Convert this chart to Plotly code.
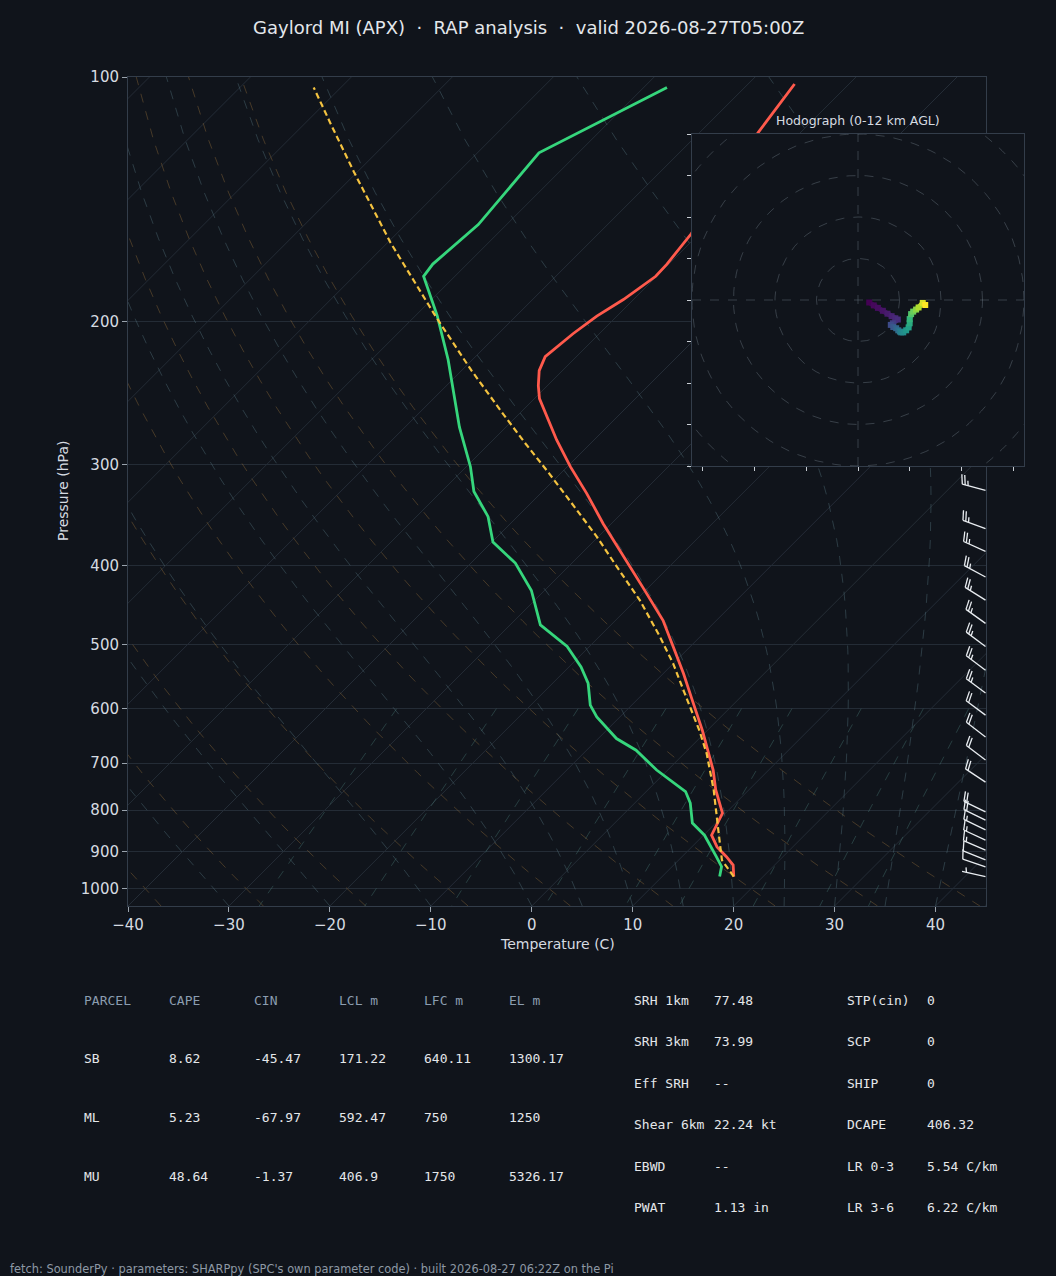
import numpy as np
import plotly.graph_objects as go
from plotly.colors import sample_colorscale

# ---- sounding ----
env_p = [966, 935, 913, 888, 859, 807, 755, 714, 675, 638, 583, 543, 503, 467, 425,
         390, 355, 326, 302, 280, 262, 249, 240, 230, 221, 207, 197, 188, 176, 170,
         156, 135, 117, 102]
env_t = [17.1, 15.9, 14.4, 12.5, 10.8, 9.7, 6.7, 4.5, 2.0, -0.5, -4.7, -8.0, -11.7,
         -15.3, -20.6, -25.5, -30.8, -35.4, -39.7, -43.7, -47.0, -49.5, -50.9, -52.3,
         -53.1, -52.6, -52.0, -51.0, -50.1, -50.2, -50.8, -52.5, -54.2, -55.4]

dew_p = [966, 939, 913, 859, 830, 784, 759, 714, 675, 653, 614, 594, 558, 533, 503,
         473, 429, 397, 374, 348, 324, 302, 270, 223, 197, 176, 170, 152, 124, 103]
dew_t = [15.7, 14.9, 13.4, 10.1, 7.7, 5.5, 3.9, -1.1, -5.1, -8.2, -12.3, -14.1, -16.5,
         -18.8, -22.2, -27.0, -31.3, -35.6, -39.9, -42.9, -46.8, -49.6, -54.6, -62.4,
         -67.8, -73.1, -73.4, -72.8, -73.9, -67.7]

parcel_p = [966, 922, 854, 755, 681, 638, 583, 528, 489, 441, 401, 368, 338, 308, 283,
            260, 230, 198, 160, 131, 114, 103]
parcel_t = [17.1, 14.3, 11.3, 6.5, 2.2, -0.8, -5.2, -10.0, -14.0, -19.6, -25.2, -30.2,
            -35.4, -41.1, -46.4, -51.6, -59.0, -67.7, -79.7, -90.3, -97.5, -102.7]

# wind profile, m/s, height km AGL
wind_p = [966, 940, 921, 896, 871, 846, 823, 804, 739, 694, 650, 611, 574, 538, 503,
          471, 441, 413, 384, 360, 323, 300, 275, 250, 225, 205]
wind_z = [0.0, 0.24, 0.41, 0.64, 0.88, 1.12, 1.35, 1.55, 2.23, 2.75, 3.28, 3.78, 4.28,
          4.79, 5.32, 5.83, 6.33, 6.83, 7.38, 7.87, 8.68, 9.22, 9.86, 10.56, 11.32, 12.0]
wind_u = [2.7, 3.8, 4.8, 6.0, 7.1, 8.1, 9.0, 9.6, 8.4, 7.9, 8.5, 9.2, 9.7, 10.1, 10.4,
          10.9, 11.6, 12.2, 12.45, 12.45, 12.8, 13.3, 14.0, 14.6, 15.6, 16.2]
wind_v = [-0.6, -1.3, -1.9, -2.6, -3.3, -3.9, -4.4, -4.7, -5.6, -6.0, -6.5, -6.8, -7.3,
          -7.6, -7.8, -7.8, -7.3, -6.6, -5.6, -4.6, -3.4, -2.8, -2.3, -1.8, -0.7, -1.2]

p_ticks = [100, 200, 300, 400, 500, 600, 700, 800, 900, 1000]
t_ticks = [-40, -30, -20, -10, 0, 10, 20, 30, 40]

SEP = "\u00a0\u00a0·\u00a0\u00a0"
title = "Gaylord MI (APX)" + SEP + "RAP analysis" + SEP + "valid 2026-08-27T05:00Z"
footer = ("fetch: SounderPy · parameters: SHARPpy (SPC's own parameter code) · "
          "built 2026-08-27 06:22Z on the Pi")

parcel_head = ["PARCEL", "CAPE", "CIN", "LCL m", "LFC m", "EL m"]
parcel_rows = [
    ["SB", "8.62", "-45.47", "171.22", "640.11", "1300.17"],
    ["ML", "5.23", "-67.97", "592.47", "750", "1250"],
    ["MU", "48.64", "-1.37", "406.9", "1750", "5326.17"],
]
idx_left = [("SRH 1km", "77.48"), ("SRH 3km", "73.99"), ("Eff SRH", "--"),
            ("Shear 6km", "22.24 kt"), ("EBWD", "--"), ("PWAT", "1.13 in")]
idx_right = [("STP(cin)", "0"), ("SCP", "0"), ("SHIP", "0"), ("DCAPE", "406.32"),
             ("LR 0-3", "5.54 C/km"), ("LR 3-6", "6.22 C/km")]

# ---- geometry ----
W, H = 1056, 1276
L0, R0, T0, B0 = 128, 986, 77, 906          # skew-T box in px
HL, HR, HT, HB = 692, 1024, 134, 466         # hodograph box in px
P_BOT, P_TOP = 1050.0, 100.0
T_LEFT, T_RIGHT = -40.0, 45.0
PX_PER_C = (R0 - L0) / (T_RIGHT - T_LEFT)
PX_PER_DEC = (B0 - T0) / np.log10(P_BOT / P_TOP)
SKEW = PX_PER_DEC / PX_PER_C                 # 45 deg in screen space

BG = "#10141b"
GRID = "#242c36"
FRAME = "#333d4a"
TXT = "#d6dbe1"


def skew_x(t, p):
    return np.asarray(t, float) + SKEW * np.log10(P_BOT / np.asarray(p, float))


fig = go.Figure()


def add_line(x, y, color, width=1.0, dash=None, xa="x", ya="y"):
    fig.add_trace(go.Scatter(x=x, y=y, mode="lines", xaxis=xa, yaxis=ya,
                             line=dict(color=color, width=width, dash=dash),
                             hoverinfo="skip", showlegend=False))


# isotherms
iso_x, iso_y = [], []
for t in range(-120, 50, 10):
    iso_x += list(skew_x([t, t], [P_BOT, P_TOP])) + [None]
    iso_y += [P_BOT, P_TOP, None]
add_line(iso_x, iso_y, GRID, 1.0)

plev = np.linspace(P_BOT, P_TOP, 50)

# dry adiabats
dx_, dy_ = [], []
for t0 in np.arange(-40, 46, 10):
    t = (t0 + 273.15) * (plev / 1000.0) ** 0.2857 - 273.15
    dx_ += list(skew_x(t, plev)) + [None]
    dy_ += list(plev) + [None]
add_line(dx_, dy_, "rgba(175,128,65,0.34)", 1.0, "dash")

# moist adiabats (pseudo-adiabatic, RK4 in pressure)
Rd, Lv, Cp, eps = 287.04749, 2.50084e6, 1004.6662, 0.621957


def moist_dtdp(p, t):
    es = 6.112 * np.exp(17.67 * (t - 273.15) / (t - 29.65))
    rs = eps * es / (p - es)
    return ((Rd * t + Lv * rs) / (Cp + Lv * Lv * rs * eps / (Rd * t * t))) / p


mx_, my_ = [], []
for t0 in list(range(-40, 0, 10)) + list(range(0, 46, 5)):
    t = t0 + 273.15
    ts = [t]
    for i in range(len(plev) - 1):
        p1, h = plev[i], plev[i + 1] - plev[i]
        k1 = moist_dtdp(p1, t)
        k2 = moist_dtdp(p1 + h / 2, t + h / 2 * k1)
        k3 = moist_dtdp(p1 + h / 2, t + h / 2 * k2)
        k4 = moist_dtdp(p1 + h, t + h * k3)
        t = t + h / 6 * (k1 + 2 * k2 + 2 * k3 + k4)
        ts.append(t)
    mx_ += list(skew_x(np.array(ts) - 273.15, plev)) + [None]
    my_ += list(plev) + [None]
add_line(mx_, my_, "rgba(95,130,140,0.36)", 1.0, "dash")

# mixing ratio lines
wx_, wy_ = [], []
pm = np.linspace(600, P_BOT, 50)
for w in [0.0004, 0.001, 0.002, 0.004, 0.007, 0.01, 0.016, 0.024, 0.032]:
    e = pm * w / (eps + w)
    lg = np.log(e / 6.112)
    td = 243.5 * lg / (17.67 - lg)
    wx_ += list(skew_x(td, pm)) + [None]
    wy_ += list(pm) + [None]
add_line(wx_, wy_, "rgba(80,135,130,0.36)", 1.0, "dash")

# profiles
add_line(skew_x(dew_t, dew_p), dew_p, "#36d67c", 2.8)
add_line(skew_x(env_t, env_p), env_p, "#ff5a4c", 2.8)
add_line(skew_x(parcel_t, parcel_p), parcel_p, "#f4c340", 2.2, "6px,3.5px")

# wind barbs (knots) along the right edge
bx, by = [], []
Lb = 24.0
x_base = T_RIGHT - 0.05
for p, u, v in zip(wind_p, wind_u, wind_v):
    s = np.hypot(u, v)
    sx, sy = -u / s, -v / s
    cx, cy = sy, -sx
    n = int(round(s * 1.94384 / 5.0))
    full, half = n // 2, n % 2
    segs = [[(0, 0), (Lb * sx, Lb * sy)]]
    off = Lb
    for i in range(full):
        ax_, ay_ = off * sx, off * sy
        segs.append([(ax_, ay_), (ax_ + 0.4 * Lb * cx + 0.125 * Lb * sx,
                                  ay_ + 0.4 * Lb * cy + 0.125 * Lb * sy)])
        off -= 0.125 * Lb
    if half:
        if full == 0:
            off -= 1.5 * 0.125 * Lb
        ax_, ay_ = off * sx, off * sy
        segs.append([(ax_, ay_), (ax_ + 0.2 * Lb * cx + 0.0625 * Lb * sx,
                                  ay_ + 0.2 * Lb * cy + 0.0625 * Lb * sy)])
    for seg in segs:
        for ddx, ddy in seg:
            bx.append(x_base + ddx / PX_PER_C)
            by.append(p * 10 ** (-ddy / PX_PER_DEC))
        bx.append(None)
        by.append(None)
add_line(bx, by, "#e9edf1", 1.3)

# ---- hodograph inset ----
R = 40
fig.add_trace(go.Scatter(x=[-R, R, R, -R, -R], y=[-R, -R, R, R, -R], mode="lines",
                         fill="toself", fillcolor=BG, line=dict(width=0),
                         xaxis="x2", yaxis="y2", hoverinfo="skip", showlegend=False))
th = np.linspace(0, 2 * np.pi, 181)
rx, ry = [], []
for r in [10, 20, 30, 40, 50]:
    rx += list(r * np.cos(th)) + [None]
    ry += list(r * np.sin(th)) + [None]
add_line(rx, ry, "rgba(130,142,155,0.35)", 1.0, "dash", "x2", "y2")
add_line([-R, R, None, 0, 0], [0, 0, None, -R, R], "rgba(130,142,155,0.35)", 1.0,
         "dash", "x2", "y2")
for i in range(len(wind_u) - 1):
    zc = min((wind_z[i] + wind_z[i + 1]) / 24.0, 1.0)
    col = sample_colorscale("Viridis", [zc])[0]
    add_line([wind_u[i], wind_u[i + 1]], [wind_v[i], wind_v[i + 1]], col, 5.0,
             None, "x2", "y2")
fig.add_trace(go.Scatter(x=wind_u, y=wind_v, mode="markers", xaxis="x2", yaxis="y2",
                         marker=dict(symbol="square", size=6, color=wind_z,
                                     colorscale="Viridis", cmin=0, cmax=12),
                         hoverinfo="skip", showlegend=False))


# ---- layout ----
def fx(px):
    return px / W


def fy(py):
    return 1 - py / H


axis_common = dict(showline=True, linecolor=FRAME, linewidth=1, mirror=True,
                   zeroline=False, ticks="outside", ticklen=5, tickcolor="#9aa3ad",
                   automargin=False,
                   tickfont=dict(family="DejaVu Sans", size=15, color=TXT))

fig.update_layout(
    width=W, height=H, margin=dict(l=0, r=0, t=0, b=0, pad=0, autoexpand=False),
    paper_bgcolor=BG, plot_bgcolor=BG, showlegend=False,
    xaxis=dict(domain=[fx(L0), fx(R0)], range=[T_LEFT, T_RIGHT], showgrid=False,
               tickvals=t_ticks, anchor="y", **axis_common),
    yaxis=dict(domain=[fy(B0), fy(T0)], type="log",
               range=[np.log10(P_BOT), np.log10(P_TOP)], tickvals=p_ticks,
               ticktext=[str(p) for p in p_ticks], showgrid=True, gridcolor=GRID,
               gridwidth=1, anchor="x", **axis_common),
    xaxis2=dict(domain=[fx(HL), fx(HR)], range=[-R, R], showgrid=False,
                showticklabels=False, anchor="y2",
                tickvals=[-37.5, -25, -12.5, 0, 12.5, 25, 37.5],
                **{**axis_common, "ticklen": 4, "tickcolor": "#c9ced4"}),
    yaxis2=dict(domain=[fy(HB), fy(HT)], range=[-R, R], showgrid=False,
                showticklabels=False, anchor="x2", dtick=10,
                **{**axis_common, "ticklen": 4, "tickcolor": "#c9ced4"}),
)

ann = []


def text(x, y, s, size=13, color=TXT, family="DejaVu Sans", xanchor="left", angle=0):
    ann.append(dict(x=fx(x), y=fy(y), xref="paper", yref="paper", text=s,
                    showarrow=False, xanchor=xanchor, yanchor="middle",
                    borderpad=0, borderwidth=0, textangle=angle,
                    font=dict(family=family, size=size, color=color)))


text(528, 27, title, 18, "#e3e7eb", xanchor="center")
text(557, 944, "Temperature (C)", 14, TXT, xanchor="center")
text(63, 491, "Pressure (hPa)", 14, TXT, xanchor="center", angle=-90)
text(858, 120, "Hodograph (0-12 km AGL)", 12.5, TXT, xanchor="center")

mono = "DejaVu Sans Mono"
col_x = [84, 169, 254, 339, 424, 509]
for cx_, h in zip(col_x, parcel_head):
    text(cx_, 1000, h, 13, "#8b9db0", mono)
for ry_, row in zip([1058, 1117, 1176], parcel_rows):
    for cx_, c in zip(col_x, row):
        text(cx_, ry_, c, 13, "#e4e7ea", mono)
rows_y = [1000, 1041, 1083, 1124, 1166, 1207]
for ry_, (k, v) in zip(rows_y, idx_left):
    text(634, ry_, k, 13, "#e4e7ea", mono)
    text(714, ry_, v, 13, "#e4e7ea", mono)
for ry_, (k, v) in zip(rows_y, idx_right):
    text(847, ry_, k, 13, "#e4e7ea", mono)
    text(927, ry_, v, 13, "#e4e7ea", mono)
text(10, 1269, footer, 11.4, "#8e99a5")

fig.update_layout(annotations=ann)
fig.write_html("out.html", config={"displayModeBar": False},
               post_script="document.body.style.margin='0';"
                           "document.body.style.background='" + BG + "';")
